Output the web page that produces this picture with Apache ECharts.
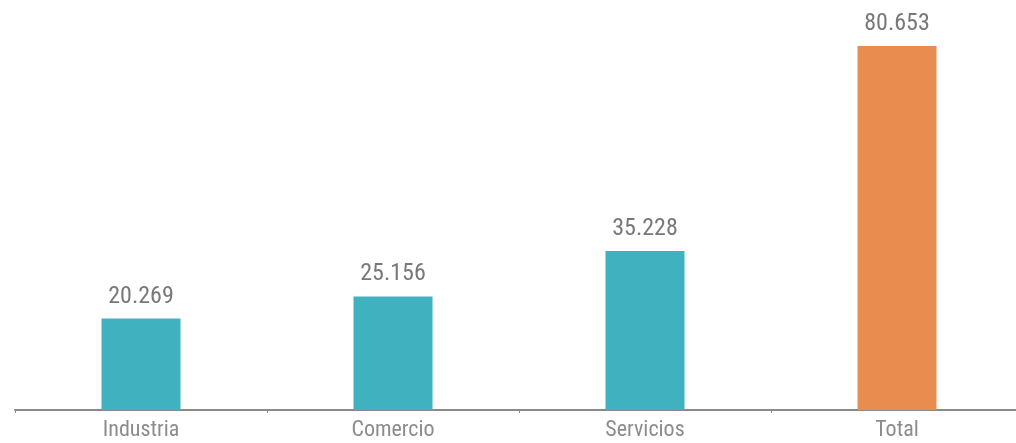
<!DOCTYPE html>
<html><head><meta charset="utf-8">
<script src="https://cdn.jsdelivr.net/npm/echarts@6/dist/echarts.min.js"></script>
<style>html,body{margin:0;padding:0;background:#fff}#c{width:1016px;height:443px}</style>
</head><body><div id="c"></div>
<script>
const categories = ['Industria', 'Comercio', 'Servicios', 'Total'];
const values = [20.269, 25.156, 35.228, 80.653];
const barColors = ['#40b2bf', '#40b2bf', '#40b2bf', '#e98c4f'];
const valueLabels = ['20.269', '25.156', '35.228', '80.653'];

const FONT = "'Roboto Condensed', 'Liberation Sans Narrow', 'Arial Narrow', 'DejaVu Sans Condensed', sans-serif";
const chart = echarts.init(document.getElementById('c'), null, {renderer: 'canvas'});
chart.setOption({
  animation: false,
  grid: {left: 15, width: 1008, top: 46, bottom: 33, outerBoundsMode: 'none', containLabel: false},
  xAxis: {
    type: 'category',
    data: categories,
    axisLine: {lineStyle: {color: '#8a8a8a', width: 2}},
    axisTick: {show: true, length: 3, lineStyle: {color: '#8a8a8a'}},
    axisLabel: {color: '#8c8c8c', fontFamily: FONT, fontSize: 22, margin: 9}
  },
  yAxis: {type: 'value', min: 0, max: 'dataMax', show: false, splitLine: {show: false}},
  series: [{
    type: 'bar',
    barWidth: 79,
    data: values.map((v, i) => ({value: v, itemStyle: {color: barColors[i]}})),
    label: {
      show: true, position: 'top', distance: 10,
      color: '#787878', fontFamily: FONT, fontSize: 24,
      formatter: p => valueLabels[p.dataIndex]
    }
  }]
});
</script></body></html>
